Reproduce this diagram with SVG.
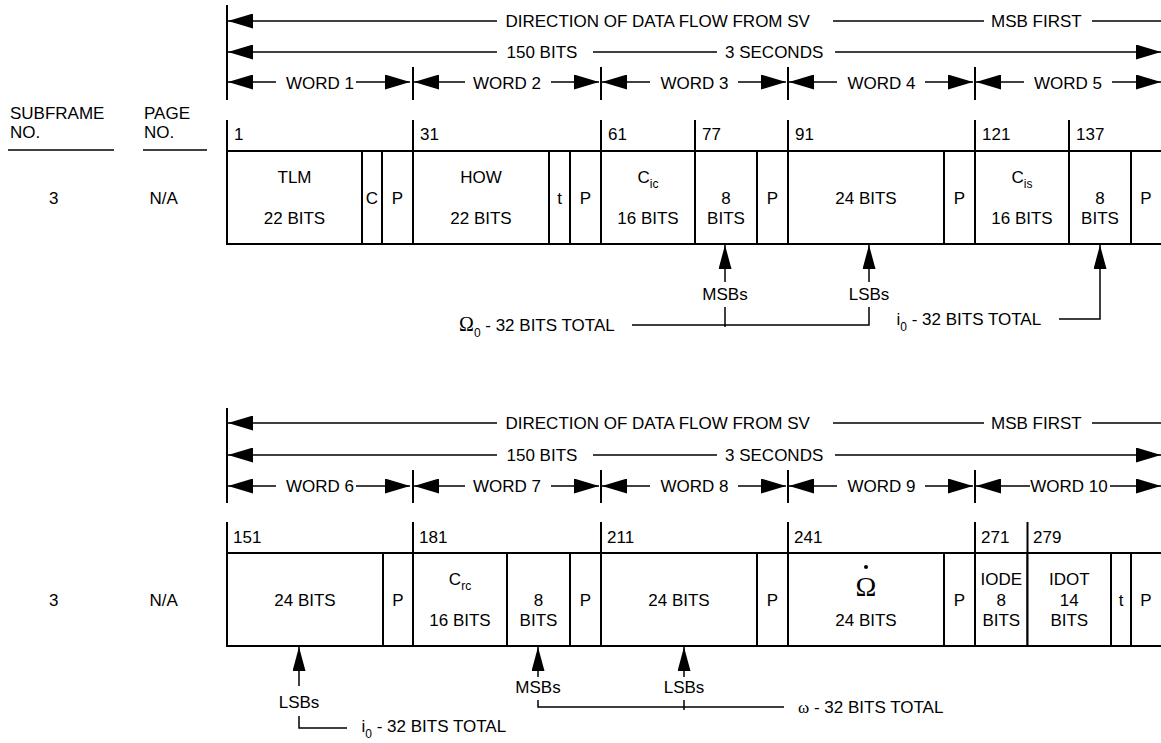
<svg xmlns="http://www.w3.org/2000/svg" width="1161" height="743" viewBox="0 0 1161 743">
<style>
.t{font-family:"Liberation Sans",Arial,sans-serif;font-size:17px;fill:#000}
.c{text-anchor:middle}
.sub{font-size:12px}
.sr{font-family:"Liberation Serif","Times New Roman",serif}
.ln{stroke:#000;stroke-width:1.5;fill:none}
.tb{stroke:#000;stroke-width:2;fill:none}
.cell rect{stroke:#000;stroke-width:2;fill:#fff}
.wa{stroke:#000;stroke-width:1.5;fill:none;marker-start:url(#ah)}
.wb{stroke:#000;stroke-width:1.5;fill:none;marker-end:url(#ah)}
.pa{stroke:#000;stroke-width:1.5;fill:none;marker-end:url(#pa)}
</style>
<defs>
<marker id="ah" markerUnits="userSpaceOnUse" markerWidth="25" markerHeight="15" viewBox="0 0 25 15" refX="25" refY="7.5" orient="auto-start-reverse"><path d="M0,0 L25,7.5 L0,15 Z" fill="#000"/></marker>
<marker id="pa" markerUnits="userSpaceOnUse" markerWidth="24" markerHeight="13" viewBox="0 0 24 13" refX="24" refY="6.5" orient="auto"><path d="M0,0 L24,6.5 L0,13 Z" fill="#000"/></marker>
</defs>
<rect width="1161" height="743" fill="#fff"/>

<g id="left-headers">
<text class="t" x="10" y="119">SUBFRAME</text>
<text class="t" x="10" y="138">NO.</text>
<line class="ln" x1="8" y1="150" x2="114" y2="150"/>
<text class="t" x="144" y="119">PAGE</text>
<text class="t" x="144" y="138">NO.</text>
<line class="ln" x1="143" y1="150" x2="207" y2="150"/>
<text class="t" x="49" y="204">3</text>
<text class="t" x="149.5" y="204">N/A</text>
<text class="t" x="49" y="606">3</text>
<text class="t" x="149.5" y="606">N/A</text>
</g>

<g id="header-top">
<line class="tb" x1="227" y1="5" x2="227" y2="100"/>
<line class="wa" x1="228" y1="21" x2="497" y2="21"/>
<text class="t" x="505.5" y="27">DIRECTION OF DATA FLOW FROM SV</text>
<line class="ln" x1="833" y1="21" x2="984" y2="21"/>
<text class="t" x="991" y="27">MSB FIRST</text>
<line class="ln" x1="1092" y1="21" x2="1161" y2="21"/>
<line class="wa" x1="228" y1="52" x2="497" y2="52"/>
<text class="t" x="506.5" y="57.5">150 BITS</text>
<line class="ln" x1="593" y1="52" x2="717" y2="52"/>
<text class="t" x="725" y="57.5">3 SECONDS</text>
<line class="wb" x1="835" y1="52" x2="1161" y2="52"/>
<g class="tb"><line x1="413" y1="67" x2="413" y2="100"/><line x1="601" y1="67" x2="601" y2="100"/><line x1="788" y1="67" x2="788" y2="100"/><line x1="975" y1="67" x2="975" y2="100"/></g>
<line class="wa" x1="228" y1="82" x2="276" y2="82"/><text class="t c" x="320" y="89">WORD 1</text><line class="wb" x1="356" y1="82" x2="410" y2="82"/>
<line class="wa" x1="414" y1="82" x2="465" y2="82"/><text class="t c" x="507" y="89">WORD 2</text><line class="wb" x1="551" y1="82" x2="599" y2="82"/>
<line class="wa" x1="602" y1="82" x2="650" y2="82"/><text class="t c" x="694.5" y="89">WORD 3</text><line class="wb" x1="738" y1="82" x2="786" y2="82"/>
<line class="wa" x1="789" y1="82" x2="837" y2="82"/><text class="t c" x="881.5" y="89">WORD 4</text><line class="wb" x1="925" y1="82" x2="973" y2="82"/>
<line class="wa" x1="976" y1="82" x2="1024" y2="82"/><text class="t c" x="1068" y="89">WORD 5</text><line class="wb" x1="1112" y1="82" x2="1161" y2="82"/>
</g>

<g id="bits-top">
<g class="tb"><line x1="227" y1="120" x2="227" y2="151"/><line x1="413" y1="120" x2="413" y2="151"/><line x1="601" y1="120" x2="601" y2="151"/><line x1="695" y1="120" x2="695" y2="151"/><line x1="788" y1="120" x2="788" y2="151"/><line x1="975" y1="120" x2="975" y2="151"/><line x1="1069" y1="120" x2="1069" y2="151"/></g>
<text class="t" x="234" y="140">1</text><text class="t" x="420" y="140">31</text><text class="t" x="608" y="140">61</text><text class="t" x="702" y="140">77</text><text class="t" x="795" y="140">91</text><text class="t" x="982" y="140">121</text><text class="t" x="1076" y="140">137</text>
</g>

<g id="sf3-w1-tlm" class="cell"><rect x="227" y="151" width="135" height="93"/><text class="t c" x="294.5" y="183">TLM</text><text class="t c" x="294.5" y="224">22 BITS</text></g>
<g id="sf3-w1-c" class="cell"><rect x="362" y="151" width="20" height="93"/><text class="t c" x="372" y="204">C</text></g>
<g id="sf3-w1-p" class="cell"><rect x="382" y="151" width="31" height="93"/><text class="t c" x="397.5" y="204">P</text></g>
<g id="sf3-w2-how" class="cell"><rect x="413" y="151" width="136" height="93"/><text class="t c" x="481" y="183">HOW</text><text class="t c" x="481" y="224">22 BITS</text></g>
<g id="sf3-w2-t" class="cell"><rect x="549" y="151" width="21" height="93"/><text class="t c" x="559.5" y="204">t</text></g>
<g id="sf3-w2-p" class="cell"><rect x="570" y="151" width="31" height="93"/><text class="t c" x="585.5" y="204">P</text></g>
<g id="sf3-w3-cic" class="cell"><rect x="601" y="151" width="94" height="93"/><text class="t c" x="648" y="183">C<tspan class="sub" dy="5">ic</tspan></text><text class="t c" x="648" y="224">16 BITS</text></g>
<g id="sf3-w3-omega0-msb" class="cell"><rect x="695" y="151" width="62" height="93"/><text class="t c" x="726" y="204">8</text><text class="t c" x="726" y="224">BITS</text></g>
<g id="sf3-w3-p" class="cell"><rect x="757" y="151" width="31" height="93"/><text class="t c" x="772.5" y="204">P</text></g>
<g id="sf3-w4-omega0-lsb" class="cell"><rect x="788" y="151" width="156" height="93"/><text class="t c" x="866" y="204">24 BITS</text></g>
<g id="sf3-w4-p" class="cell"><rect x="944" y="151" width="31" height="93"/><text class="t c" x="959.5" y="204">P</text></g>
<g id="sf3-w5-cis" class="cell"><rect x="975" y="151" width="94" height="93"/><text class="t c" x="1022" y="183">C<tspan class="sub" dy="5">is</tspan></text><text class="t c" x="1022" y="224">16 BITS</text></g>
<g id="sf3-w5-i0-msb" class="cell"><rect x="1069" y="151" width="62" height="93"/><text class="t c" x="1100" y="204">8</text><text class="t c" x="1100" y="224">BITS</text></g>
<g id="sf3-w5-p" class="cell"><rect x="1131" y="151" width="33" height="93"/><text class="t c" x="1146" y="204">P</text></g>

<g id="header-bottom">
<line class="tb" x1="227" y1="408" x2="227" y2="503"/>
<line class="wa" x1="228" y1="423" x2="497" y2="423"/>
<text class="t" x="505.5" y="429">DIRECTION OF DATA FLOW FROM SV</text>
<line class="ln" x1="833" y1="423" x2="984" y2="423"/>
<text class="t" x="991" y="429">MSB FIRST</text>
<line class="ln" x1="1092" y1="423" x2="1161" y2="423"/>
<line class="wa" x1="228" y1="455" x2="497" y2="455"/>
<text class="t" x="506.5" y="460.5">150 BITS</text>
<line class="ln" x1="593" y1="455" x2="717" y2="455"/>
<text class="t" x="725" y="460.5">3 SECONDS</text>
<line class="wb" x1="835" y1="455" x2="1161" y2="455"/>
<g class="tb"><line x1="413" y1="470" x2="413" y2="503"/><line x1="601" y1="470" x2="601" y2="503"/><line x1="788" y1="470" x2="788" y2="503"/><line x1="975" y1="470" x2="975" y2="503"/></g>
<line class="wa" x1="228" y1="486" x2="276" y2="486"/><text class="t c" x="320" y="492">WORD 6</text><line class="wb" x1="356" y1="486" x2="410" y2="486"/>
<line class="wa" x1="414" y1="486" x2="465" y2="486"/><text class="t c" x="507" y="492">WORD 7</text><line class="wb" x1="551" y1="486" x2="599" y2="486"/>
<line class="wa" x1="602" y1="486" x2="650" y2="486"/><text class="t c" x="694.5" y="492">WORD 8</text><line class="wb" x1="738" y1="486" x2="786" y2="486"/>
<line class="wa" x1="789" y1="486" x2="837" y2="486"/><text class="t c" x="881.5" y="492">WORD 9</text><line class="wb" x1="925" y1="486" x2="973" y2="486"/>
<line class="wa" x1="976" y1="486" x2="1030" y2="486"/><text class="t c" x="1069" y="492">WORD 10</text><line class="wb" x1="1110" y1="486" x2="1161" y2="486"/>
</g>

<g id="bits-bottom">
<g class="tb"><line x1="227" y1="522" x2="227" y2="553"/><line x1="413" y1="522" x2="413" y2="553"/><line x1="601" y1="522" x2="601" y2="553"/><line x1="788" y1="522" x2="788" y2="553"/><line x1="975" y1="522" x2="975" y2="553"/><line x1="1027.5" y1="522" x2="1027.5" y2="553"/></g>
<text class="t" x="233" y="542.5">151</text><text class="t" x="419" y="542.5">181</text><text class="t" x="607" y="542.5">211</text><text class="t" x="794" y="542.5">241</text><text class="t" x="981" y="542.5">271</text><text class="t" x="1033" y="542.5">279</text>
</g>

<g id="sf3-w6-i0-lsb" class="cell"><rect x="227" y="553" width="156" height="93"/><text class="t c" x="305" y="605.5">24 BITS</text></g>
<g id="sf3-w6-p" class="cell"><rect x="383" y="553" width="30" height="93"/><text class="t c" x="398" y="605.5">P</text></g>
<g id="sf3-w7-crc" class="cell"><rect x="413" y="553" width="94" height="93"/><text class="t c" x="460" y="585">C<tspan class="sub" dy="5">rc</tspan></text><text class="t c" x="460" y="626">16 BITS</text></g>
<g id="sf3-w7-omega-msb" class="cell"><rect x="507" y="553" width="63" height="93"/><text class="t c" x="538.5" y="605.5">8</text><text class="t c" x="538.5" y="626">BITS</text></g>
<g id="sf3-w7-p" class="cell"><rect x="570" y="553" width="31" height="93"/><text class="t c" x="585.5" y="605.5">P</text></g>
<g id="sf3-w8-omega-lsb" class="cell"><rect x="601" y="553" width="156" height="93"/><text class="t c" x="679" y="605.5">24 BITS</text></g>
<g id="sf3-w8-p" class="cell"><rect x="757" y="553" width="31" height="93"/><text class="t c" x="772.5" y="605.5">P</text></g>
<g id="sf3-w9-omegadot" class="cell"><rect x="788" y="553" width="156" height="93"/><circle cx="866" cy="567" r="2" fill="#000"/><text class="t c sr" x="866" y="596" style="font-size:28px">Ω</text><text class="t c" x="866" y="626">24 BITS</text></g>
<g id="sf3-w9-p" class="cell"><rect x="944" y="553" width="31" height="93"/><text class="t c" x="959.5" y="605.5">P</text></g>
<g id="sf3-w10-iode" class="cell"><rect x="975" y="553" width="52.5" height="93"/><text class="t c" x="1001.3" y="585">IODE</text><text class="t c" x="1001.3" y="605.5">8</text><text class="t c" x="1001.3" y="626">BITS</text></g>
<g id="sf3-w10-idot" class="cell"><rect x="1027.5" y="553" width="83.5" height="93"/><text class="t c" x="1069.3" y="585">IDOT</text><text class="t c" x="1069.3" y="605.5">14</text><text class="t c" x="1069.3" y="626">BITS</text></g>
<g id="sf3-w10-t" class="cell"><rect x="1111" y="553" width="20" height="93"/><text class="t c" x="1121" y="605.5">t</text></g>
<g id="sf3-w10-p" class="cell"><rect x="1131" y="553" width="33" height="93"/><text class="t c" x="1146" y="605.5">P</text></g>

<g id="connectors">
<line class="pa" x1="725" y1="282" x2="725" y2="245"/>
<text class="t c" x="725" y="300">MSBs</text>
<line class="pa" x1="869" y1="282" x2="869" y2="245"/>
<text class="t c" x="869" y="300">LSBs</text>
<polyline class="ln" points="632,325 869,325 869,307"/>
<line class="ln" x1="725" y1="307" x2="725" y2="327"/>
<text class="t" x="459" y="331"><tspan class="sr" style="font-size:20px">Ω</tspan><tspan class="sub" dy="6">0</tspan><tspan dy="-6"> - 32 BITS TOTAL</tspan></text>
<polyline class="pa" points="1059,319 1100,319 1100,245"/>
<text class="t" x="896.5" y="325">i<tspan class="sub" dy="6">0</tspan><tspan dy="-6"> - 32 BITS TOTAL</tspan></text>

<line class="pa" x1="299" y1="686" x2="299" y2="647"/>
<text class="t c" x="299" y="708">LSBs</text>
<polyline class="ln" points="299,716 299,728 347,728"/>
<text class="t" x="361.5" y="732">i<tspan class="sub" dy="6">0</tspan><tspan dy="-6"> - 32 BITS TOTAL</tspan></text>
<line class="pa" x1="538" y1="677" x2="538" y2="647"/>
<text class="t c" x="538" y="693">MSBs</text>
<polyline class="ln" points="538,700 538,707 784,707"/>
<line class="pa" x1="684" y1="677" x2="684" y2="647"/>
<text class="t c" x="684" y="693">LSBs</text>
<line class="ln" x1="684" y1="700" x2="684" y2="710"/>
<text class="t" x="798" y="713"><tspan class="sr">ω</tspan> - 32 BITS TOTAL</text>
</g>
</svg>
